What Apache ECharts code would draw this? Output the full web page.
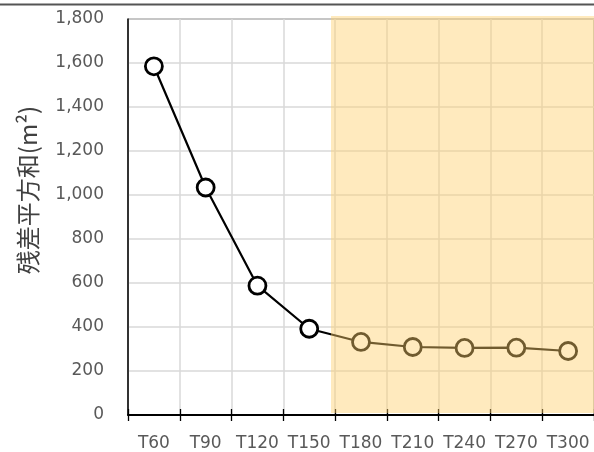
<!DOCTYPE html>
<html><head><meta charset="utf-8">
<script src="https://cdn.jsdelivr.net/npm/echarts@6/dist/echarts.min.js"></script>
<style>html,body{margin:0;padding:0;background:#fff}#c{width:594px;height:452px}</style>
</head><body><div id="c"></div>
<script>
const categories = ['T60','T90','T120','T150','T180','T210','T240','T270','T300'];
const residualSS = [1585, 1034, 588, 392, 332, 309, 305, 306, 291];
const yTicks = { min: 0, max: 1800, interval: 200 };
const yTitle = '残差平方和(m²)';
// shaded band in category-index units: [xStart, xEnd, yTop, yBottom]
const shadeBand = [[3.42, 8.6, 1814, 9]];

const chart = echarts.init(document.getElementById('c'), null, {renderer:'canvas'});
const labelFont = 'DejaVu Sans';
chart.setOption({
  animation: false,
  grid: { left: 128, top: 19, right: -2, bottom: 36, show: true, borderColor: '#222', borderWidth: 1, containLabel: false },
  xAxis: [
    { type: 'category', data: categories, boundaryGap: true,
      axisLine: { show: true, onZero: false, lineStyle: { color: '#000', width: 2 } },
      axisTick: { show: true, interval: 0, length: 6, lineStyle: { color: '#000', width: 1.3 } },
      axisLabel: { interval: 0, color: '#595959', fontFamily: labelFont, fontSize: 17, margin: 20, hideOverlap: false },
      splitLine: { show: true, interval: 0, lineStyle: { color: '#d9d9d9', width: 1.5 } } },
    { type: 'category', data: categories, boundaryGap: true, position: 'bottom',
      axisLine: { show: false, onZero: false },
      axisTick: { show: true, interval: 0, inside: true, length: 6, lineStyle: { color: '#000', width: 1.3 } },
      axisLabel: { show: false }, splitLine: { show: false } },
    { type: 'value', min: -0.5, max: 8.5, show: false, axisLine: { onZero: false } }
  ],
  yAxis: {
    type: 'value', min: yTicks.min, max: yTicks.max, interval: yTicks.interval,
    axisLine: { show: true, onZero: false, lineStyle: { color: '#000', width: 1.5 } },
    axisTick: { show: false },
    axisLabel: { color: '#595959', fontFamily: labelFont, fontSize: 17, margin: 24,
      formatter: v => v.toLocaleString('en-US') },
    splitLine: { show: true, lineStyle: { color: '#d9d9d9', width: 1.5 } }
  },
  graphic: [
    { type: 'line', shape: { x1: 0, y1: 4.5, x2: 594, y2: 4.5 }, style: { stroke: '#555', lineWidth: 1.8 }, z: 100 },
    { type: 'text', x: 28, y: 190, rotation: Math.PI / 2,
      style: { text: yTitle, fill: '#404040', font: '24px "Noto Sans CJK JP"', align: 'center', verticalAlign: 'middle' } }
  ],
  series: [
    { type: 'line', data: residualSS, xAxisIndex: 0, z: 3,
      symbol: 'circle', symbolSize: 17,
      lineStyle: { color: '#000', width: 2.2 },
      itemStyle: { color: '#fff', borderColor: '#000', borderWidth: 2.8 } },
    { type: 'custom', xAxisIndex: 2, z: 10, clip: false, silent: true,
      data: shadeBand,
      renderItem: (params, api) => {
        const p0 = api.coord([api.value(0), api.value(2)]);
        const p1 = api.coord([api.value(1), api.value(3)]);
        return { type: 'rect', shape: { x: p0[0], y: p0[1], width: p1[0] - p0[0] + 40, height: p1[1] - p0[1] },
          style: { fill: 'rgba(255,207,106,0.44)' } };
      } }
  ]
});
</script></body></html>
